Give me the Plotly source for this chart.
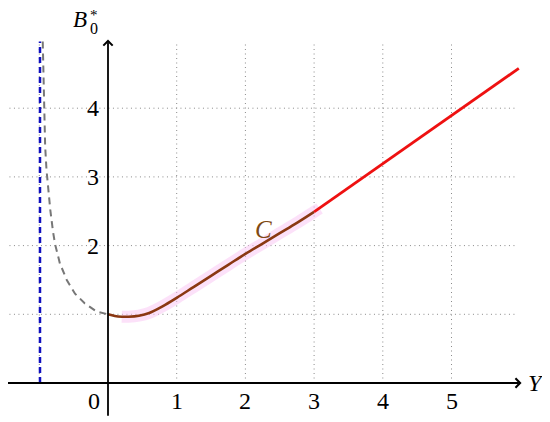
import plotly.graph_objects as go

# ---- data ----
gray_x = [-0.95, -0.94, -0.93, -0.915, -0.895, -0.87, -0.84, -0.80, -0.77, -0.70, -0.60, -0.48, -0.34, -0.165, 0.0]
gray_y = [4.97, 4.40, 3.90, 3.45, 3.10, 2.80, 2.52, 2.20, 2.02, 1.74, 1.50, 1.30, 1.16, 1.04, 1.0]

brown_x = [0.0, 0.1, 0.2, 0.3, 0.45, 0.6, 0.8, 1.0, 1.25, 1.5, 1.75, 2.0, 2.25, 2.5, 2.75, 3.0]
brown_y = [1.0, 0.975, 0.965, 0.965, 0.98, 1.02, 1.12, 1.24, 1.40, 1.56, 1.72, 1.88, 2.03, 2.18, 2.33, 2.49]

red_x = [3.0, 3.5, 4.0, 4.5, 5.0, 5.5, 5.98]
red_y = [2.49, 2.84, 3.19, 3.54, 3.89, 4.24, 4.58]

asym_x = -0.99
x_ticks = [1, 2, 3, 4, 5]
x_tick_labels = ["1", "2", "3", "4", "5"]
y_ticks = [2, 3, 4]
y_tick_labels = ["2", "3", "4"]
grid_x = [-1, 1, 2, 3, 4, 5]
grid_y = [1, 2, 3, 4]

FONT = "Liberation Serif"

fig = go.Figure()

# grid (dotted)
shapes = []
for gx in grid_x:
    shapes.append(dict(type="line", xref="x", yref="y", x0=gx, x1=gx, y0=0, y1=4.97,
                       line=dict(color="#8a8a8a", width=1, dash="1px,3.5px"), layer="below"))
for gy in grid_y:
    shapes.append(dict(type="line", xref="x", yref="y", x0=-1.5, x1=5.95, y0=gy, y1=gy,
                       line=dict(color="#8a8a8a", width=1, dash="1px,3.5px"), layer="below"))

# asymptote
fig.add_trace(go.Scatter(x=[asym_x, asym_x], y=[0, 4.97], mode="lines",
                         line=dict(color="#1010c0", width=2.5, dash="6px,4px"),
                         hoverinfo="skip", showlegend=False))
# gray dashed branch
fig.add_trace(go.Scatter(x=gray_x, y=gray_y, mode="lines",
                         line=dict(color="#777777", width=2, dash="7px,5px"),
                         hoverinfo="skip", showlegend=False))
# pink highlight
fig.add_trace(go.Scatter(x=brown_x[2:] + [3.08], y=brown_y[2:] + [2.54], mode="lines", line_shape="spline",
                         line=dict(color="rgba(250,195,243,0.5)", width=12),
                         hoverinfo="skip", showlegend=False))
# brown curve C
fig.add_trace(go.Scatter(x=brown_x, y=brown_y, mode="lines", line_shape="spline",
                         line=dict(color="#8a3812", width=2.6),
                         hoverinfo="skip", showlegend=False))
# red line
fig.add_trace(go.Scatter(x=red_x, y=red_y, mode="lines",
                         line=dict(color="#ee1111", width=2.8),
                         hoverinfo="skip", showlegend=False))

ann = []
# axes with arrows
ann.append(dict(x=6.02, y=0, ax=-1.5, ay=0, xref="x", yref="y", axref="x", ayref="y",
                text="", showarrow=True, arrowhead=4, arrowsize=1.0, arrowwidth=1.8, arrowcolor="black"))
ann.append(dict(x=0, y=5.0, ax=0, ay=-0.5, xref="x", yref="y", axref="x", ayref="y",
                text="", showarrow=True, arrowhead=4, arrowsize=1.0, arrowwidth=1.8, arrowcolor="black"))

TF = dict(family=FONT, size=24, color="black")
# tick labels
ann.append(dict(x=-0.2, y=-0.26, xref="x", yref="y", text="0", showarrow=False, font=TF))
for v, t in zip(x_ticks, x_tick_labels):
    ann.append(dict(x=v, y=-0.26, xref="x", yref="y", text=t, showarrow=False, font=TF))
for v, t in zip(y_ticks, y_tick_labels):
    ann.append(dict(x=-0.22, y=v, xref="x", yref="y", text=t, showarrow=False, font=TF))

# axis titles
ann.append(dict(x=6.23, y=0.0, xref="x", yref="y", text="<i>Y</i>", showarrow=False, font=TF))
ann.append(dict(x=-0.41, y=5.29, xref="x", yref="y", text="<i>B</i>", showarrow=False,
                borderpad=0, font=dict(family=FONT, size=23, color="black")))
ann.append(dict(x=-0.21, y=5.16, xref="x", yref="y", text="0", showarrow=False,
                borderpad=0, font=dict(family=FONT, size=16, color="black")))
ann.append(dict(x=-0.21, y=5.36, xref="x", yref="y", text="*", showarrow=False,
                borderpad=0, font=dict(family=FONT, size=15, color="black")))

# curve label
ann.append(dict(x=2.26, y=2.24, xref="x", yref="y", text="<i>C</i>", showarrow=False,
                font=dict(family=FONT, size=25, color="#7f4a14")))

# page has an 8px body margin: figure pixel (0,0) sits at window pixel (8,8)
S = 68.7
OFF = 8
fig.update_layout(
    width=550 - OFF, height=422 - OFF,
    margin=dict(l=0, r=0, t=0, b=0),
    paper_bgcolor="white", plot_bgcolor="white",
    xaxis=dict(range=[(OFF - 108) / S, (550 - 108) / S], visible=False, fixedrange=True),
    yaxis=dict(range=[-(422 - 383) / S, (383 - OFF) / S], visible=False, fixedrange=True),
    shapes=shapes, annotations=ann, showlegend=False,
)

fig.write_html("out.html")
